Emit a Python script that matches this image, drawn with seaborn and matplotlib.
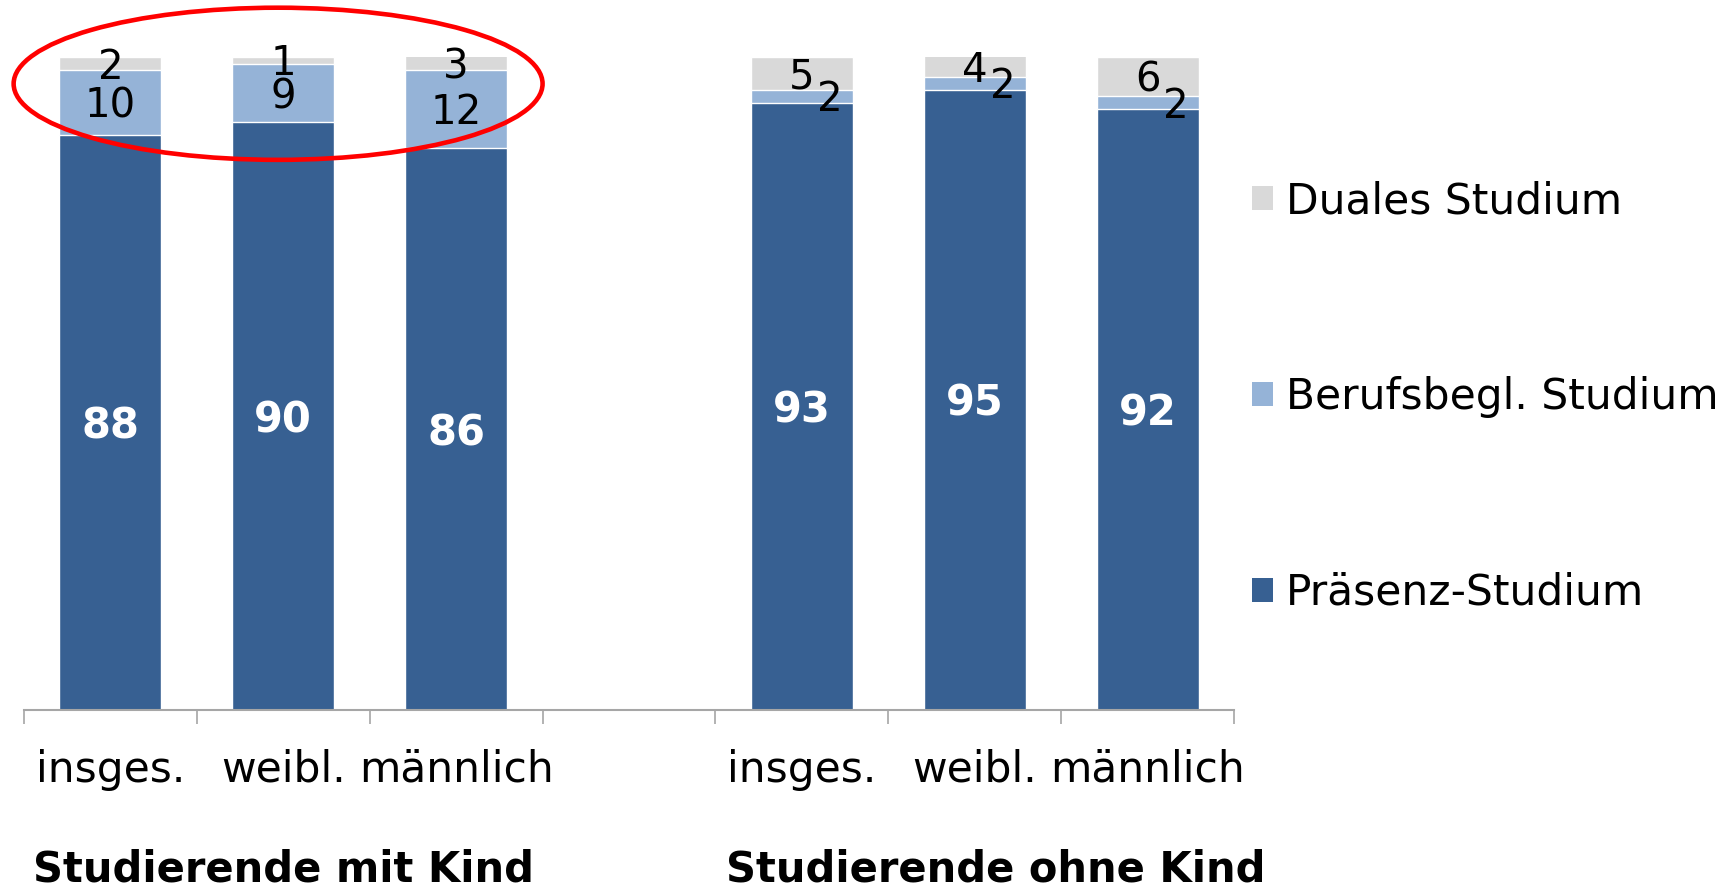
import pandas as pd
import numpy as np
import matplotlib.pyplot as plt
import seaborn as sns
from matplotlib.patches import Patch, Ellipse

# --- data ---
groups = ['Studierende mit Kind', 'Studierende ohne Kind']
subgroups = ['insges.', 'weibl.', 'männlich']
praesenz = [88, 90, 86, 93, 95, 92]
berufsbegl = [10, 9, 12, 2, 2, 2]
duales = [2, 1, 3, 5, 4, 6]

series_names = ['Duales Studium', 'Berufsbegl. Studium', 'Präsenz-Studium']
colors = {'Präsenz-Studium': '#376092',
          'Berufsbegl. Studium': '#95B3D7',
          'Duales Studium': '#D9D9D9'}

# slot keys: 3 bars, an empty gap, 3 bars
keys = ['mit_' + s for s in subgroups] + ['ohne_' + s for s in subgroups]
order = keys[:3] + ['gap'] + keys[3:]
tick_labels = subgroups + [''] + subgroups

df = pd.DataFrame({'slot': keys, 'p': praesenz, 'b': berufsbegl, 'd': duales})
df['pb'] = df['p'] + df['b']
df['total'] = df['pb'] + df['d']

# --- plot ---
sns.set_style('white')
plt.rcParams['font.family'] = ['DejaVu Sans']
plt.rcParams['text.color'] = 'black'
plt.rcParams['xtick.color'] = 'black'

fig = plt.figure(figsize=(17.25, 8.88), dpi=100)
ax = fig.add_axes([24 / 1725, 1 - 710 / 888, 1210 / 1725, 653 / 888])

# stacked look by overlaying cumulative bars (axis tops out at 100)
for col, name in [('total', 'Duales Studium'), ('pb', 'Berufsbegl. Studium'), ('p', 'Präsenz-Studium')]:
    sns.barplot(data=df, x='slot', y=col, order=order, color=colors[name],
                width=0.59, saturation=1, ax=ax, errorbar=None)

ax.set_ylim(0, 100)
ax.set_xlim(-0.5, 6.5)
ax.set_xlabel('')
ax.set_ylabel('')
ax.set_yticks([])
for side in ['left', 'right', 'top']:
    ax.spines[side].set_visible(False)
ax.spines['bottom'].set_color('#A6A6A6')
ax.spines['bottom'].set_linewidth(1.5)

ax.set_xticks(np.arange(-0.5, 7, 1.0))
ax.set_xticklabels([])
ax.tick_params(axis='x', which='major', length=10, width=1.2, color='#A6A6A6', direction='out', bottom=True)
ax.set_xticks(np.arange(7), minor=True)
ax.set_xticklabels(tick_labels, minor=True, fontsize=30.5, color='black')
ax.tick_params(axis='x', which='minor', length=0, pad=28)

# value labels
def label(x, y, txt, dx=0, **kw):
    ax.annotate(txt, (x, y), xytext=(dx, -3), textcoords='offset points',
                ha='center', va='center', annotation_clip=False, **kw)

xpos = [order.index(k) for k in keys]
for i, x in enumerate(xpos):
    p, pb = df['p'][i], df['pb'][i]
    top = min(df['total'][i], 100)
    label(x, p / 2, str(praesenz[i]), color='white', fontsize=30, fontweight='bold')
    dx = 0 if i < 3 else 20
    label(x, (p + pb) / 2, str(berufsbegl[i]), dx=dx, fontsize=29)
    label(x, (pb + top) / 2, str(duales[i]), fontsize=29)

# red ellipse highlighting the first group
ell = Ellipse((0.97, 95.9), width=3.06, height=23.3, fill=False, edgecolor='#FF0000',
              linewidth=3.3, clip_on=False)
ax.add_patch(ell)

# group labels
fig.text(33 / 1725, 1 - 869 / 888, groups[0], fontsize=30, fontweight='bold', va='center', ha='left')
fig.text(726 / 1725, 1 - 869 / 888, groups[1], fontsize=30, fontweight='bold', va='center', ha='left')

# legend
handles = [Patch(facecolor=colors[n], edgecolor='none') for n in series_names]
fig.legend(handles, series_names, loc='center left', bbox_to_anchor=(1252 / 1725, 1 - 397 / 888),
           frameon=False, fontsize=30.5, handlelength=0.5, handleheight=0.5,
           handletextpad=0.3, labelspacing=3.63, borderpad=0, borderaxespad=0)

fig.savefig('out.png', dpi=100)
